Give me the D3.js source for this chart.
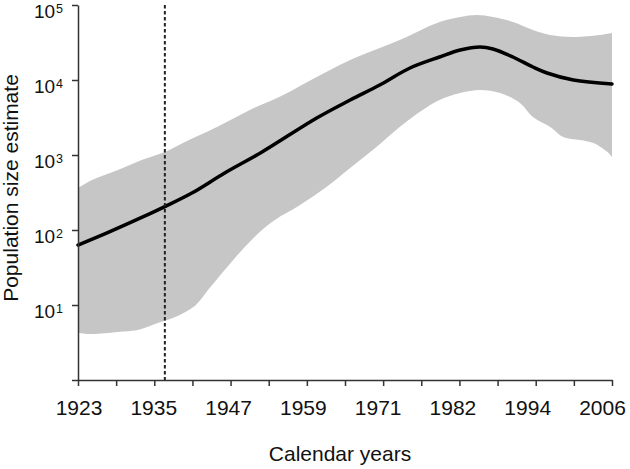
<!DOCTYPE html>
<html><head><meta charset="utf-8">
<script src="https://cdn.jsdelivr.net/npm/d3@7"></script>
<style>
body{margin:0;background:#fff}
svg{display:block}
text{font-family:"Liberation Sans",Arial,Helvetica,sans-serif;fill:#111}
</style>
</head><body><svg id="c" width="630" height="469"></svg>
<script>
// ---- data ----
const lineYears  = [1923,1927.7,1932.9,1936.5,1940.7,1945.8,1951.6,1960.1,1965.3,1969.9,1974.6,1979.2,1982.4,1985.5,1987.5,1990.6,1993.7,1995.9,2000.0,2006];
const lineValues = [63,93,147,205,311,575,1096,3113,5410,8580,14450,20270,25120,27540,25890,20270,14900,12400,10000,8850];

const upperYears  = [1923,1925.2,1929.2,1932.9,1936.5,1939.3,1944.6,1949.7,1954.9,1960.1,1965.3,1973.0,1979.2,1982.4,1985.0,1987.5,1990.6,1993.7,1996.4,2000.0,2004.1,2006];
const upperValues = [363,464,631,858,1096,1445,2362,3981,6310,10960,18480,34150,59340,69180,73560,69180,59340,46420,39810,37460,39810,42340];

const lowerYears  = [1923,1925.2,1929.2,1932.3,1935.4,1938.1,1941.2,1943.2,1945.8,1948.5,1951.6,1953.6,1957.5,1961.4,1965.3,1969.2,1973.0,1976.1,1979.2,1982.4,1985.5,1988.6,1991.7,1993.7,1996.4,1998.4,2001.0,2003.1,2005.3,2006];
const lowerValues = [4.24,4.10,4.37,4.64,5.75,6.92,9.8,15.8,29.3,54.1,100,136,215,363,671,1240,2362,3743,5410,6710,7360,6710,4935,3210,2362,1738,1585,1445,1096,940];

const xTickLabels = ["1923","1935","1947","1959","1971","1982","1994","2006"];
const yTickValues = [1,10,100,1000,10000,100000];
const yTickExponents = ["","1","2","3","4","5"];
const dashedYear = 1936.5;
const xTitle = "Calendar years";
const yTitle = "Population size estimate";

// ---- layout ----
const svg = d3.select("#c");
const x = d3.scaleLinear().domain([1923,2006]).range([78,612]);
const y = d3.scaleLog().domain([1,100000]).range([380,5]);
const xLabelPos = d3.scalePoint().domain(xTickLabels).range([79,602.5]);

const nTicks = 15;
const xTickValues = d3.range(nTicks).map(i => 1923 + i*(2006-1923)/(nTicks-1));

// band
const lineGen = d3.line().x(d=>x(d[0])).y(d=>y(d[1])).curve(d3.curveCatmullRom.alpha(0.5));
const up = upperYears.map((d,i)=>[d,upperValues[i]]);
const lo = lowerYears.map((d,i)=>[d,lowerValues[i]]).reverse();
const bandPath = lineGen(up) + "L" + lineGen(lo).slice(1) + "Z";
svg.append("path").attr("d",bandPath).attr("fill","#c6c6c6").attr("stroke","none");

// central line
svg.append("path")
  .attr("d", lineGen(lineYears.map((d,i)=>[d,lineValues[i]])))
  .attr("fill","none").attr("stroke","#000").attr("stroke-width",3.5)
  .attr("stroke-linejoin","round").attr("stroke-linecap","round");

// dashed line
svg.append("line")
  .attr("x1",x(dashedYear)).attr("x2",x(dashedYear))
  .attr("y1",y(100000)).attr("y2",y(1))
  .attr("stroke","#222").attr("stroke-width",2).attr("stroke-dasharray","3.5,2.5");

// x axis
const xAxis = svg.append("g").attr("transform","translate(0,380)")
  .call(d3.axisBottom(x).tickValues(xTickValues).tickSize(6).tickSizeOuter(0).tickFormat(""));
xAxis.selectAll("path,line").attr("stroke","#333").attr("stroke-width",1.5);
svg.append("g").selectAll("text").data(xTickLabels).join("text")
  .attr("x",d=>xLabelPos(d)).attr("y",415).attr("text-anchor","middle")
  .attr("font-size",21).text(d=>d);

// y axis
const yAxis = svg.append("g").attr("transform","translate(78,0)")
  .call(d3.axisLeft(y).tickValues(yTickValues).tickSize(6).tickSizeOuter(0).tickFormat(""));
yAxis.selectAll("path,line").attr("stroke","#333").attr("stroke-width",1.5);
yAxis.selectAll(".tick").each(function(d,i){
  if(!yTickExponents[i]) return;
  const t = d3.select(this).append("text").attr("x",-15).attr("y",12.5)
    .attr("text-anchor","end").style("fill","#111");
  t.append("tspan").attr("font-size",19).text("10");
  t.append("tspan").attr("font-size",12.5).attr("dy",-5.5).attr("dx",1).text(yTickExponents[i]);
});

// titles
svg.append("text").attr("x",340).attr("y",461).attr("text-anchor","middle")
  .attr("font-size",21).text(xTitle);
svg.append("text").attr("transform","translate(18,188) rotate(-90)")
  .attr("text-anchor","middle").attr("font-size",21).text(yTitle);
</script>
</body></html>
